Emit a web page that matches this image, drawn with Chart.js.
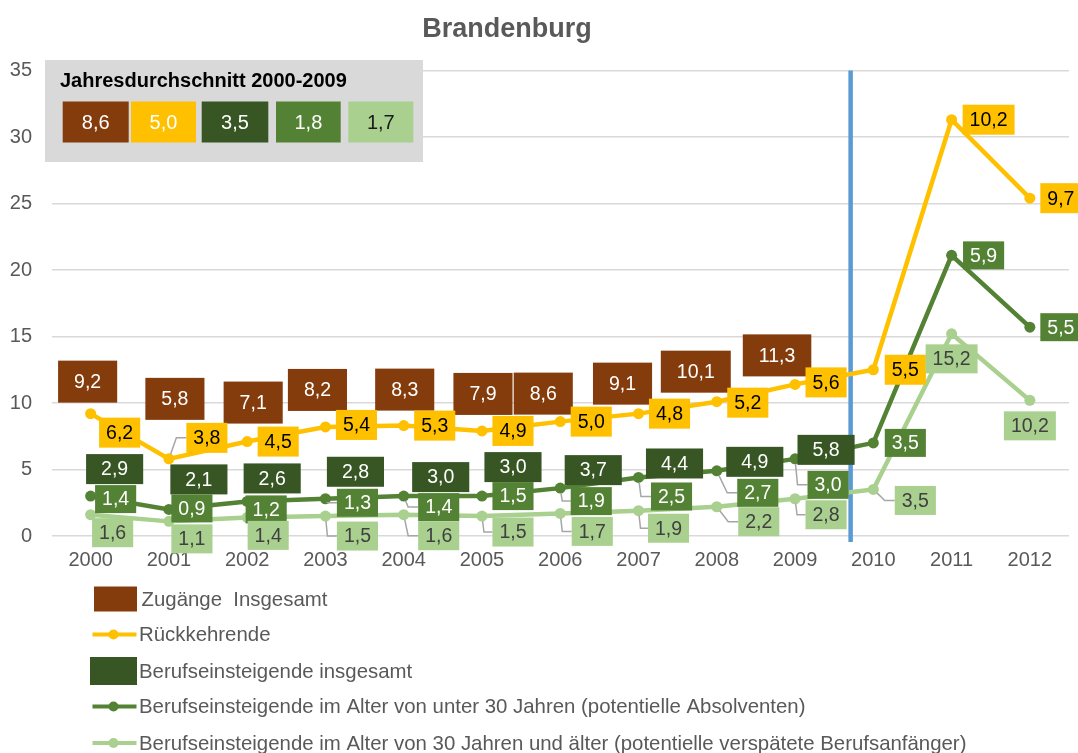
<!DOCTYPE html>
<html lang="de">
<head>
<meta charset="utf-8">
<title>Brandenburg</title>
<script src="https://cdn.jsdelivr.net/npm/chart.js@4.4.1/dist/chart.umd.min.js"></script>
<style>
  html, body { margin: 0; padding: 0; background: #fff; }
  #chart { display: block; }
</style>
</head>
<body>
<canvas id="chart" width="1078" height="753"></canvas>
<script>
// Kategorien und Achse
const years = ['2000', '2001', '2002', '2003', '2004', '2005', '2006', '2007', '2008', '2009', '2010', '2011', '2012'];
const yTicks = [0, 5, 10, 15, 20, 25, 30, 35];

// Jahresdurchschnitt 2000-2009 (Zugänge, Rückkehrende, Einsteiger ges., <30, >=30)
const averages = [8.6, 5.0, 3.5, 1.8, 1.7];

// Werte je Jahr
const zugaengeInsgesamt = [9.2, 5.8, 7.1, 8.2, 8.3, 7.9, 8.6, 9.1, 10.1, 11.3];
const rueckkehrende = [6.2, 3.8, 4.5, 5.4, 5.3, 4.9, 5.0, 4.8, 5.2, 5.6, 5.5, 10.2, 9.7];
const einsteigerInsgesamt = [2.9, 2.1, 2.6, 2.8, 3.0, 3.0, 3.7, 4.4, 4.9, 5.8];
const einsteigerUnter30 = [1.4, 0.9, 1.2, 1.3, 1.4, 1.5, 1.9, 2.5, 2.7, 3.0, 3.5, 5.9, 5.5];
const einsteigerAb30 = [1.6, 1.1, 1.4, 1.5, 1.6, 1.5, 1.7, 1.9, 2.2, 2.8, 3.5, 15.2, 10.2];

const FONT = "'Liberation Sans', Arial, sans-serif";
const GREY_TEXT = '#595959';
const colors = {
    brown: '#843C0C',
    yellow: '#FFC000',
    dark: '#375623',
    mid: '#548235',
    light: '#A9D08E',
    blue: '#5B9BD5'
};

// Position der Datenbeschriftungen (Mitte der Box relativ zum Punkt)
const labelOffsets = {
    zugaenge: [[-3, -32], [6, -60], [6, -39], [-8, -37], [1, -36], [1, -37], [-17, -28], [-16, -30], [-21, -30], [-18, -29]],
    rueck: [[29, 19], [38, -21], [31, 0], [31, -2], [31, 0], [31, 0], [31, 0], [31, 0], [31, 1], [31, -2], [32, 0], [37, 0], [31, 0]],
    insgesamt: [[24, -27], [30, -30], [25, -23], [30, -27], [37, -19], [31, -29], [33, -18], [36, -14], [38, -9], [31, -9]],
    unter30: [[25, 3], [23, -1], [19, 8], [32, 4], [35, 11], [31, 0], [31, 13], [33, 19], [41, 22], [33, 26], [32, 0], [32, 0], [31, 0]],
    ab30: [[22, 18], [23, 17.5], [21, 18], [32, 20], [35, 21], [31, 16], [32, 18], [30, 17.5], [42, 15], [31, 16], [42, 11], [0, 25], [0, 25.5]]
};

function fmt(v) {
    return v.toFixed(1).replace('.', ',');
}

function lineDataset(label, data, color) {
    return {
        label: label,
        data: data,
        borderColor: color,
        backgroundColor: color,
        pointBackgroundColor: color,
        pointBorderColor: color,
        borderWidth: 4.5,
        pointRadius: 5.5,
        pointBorderWidth: 0,
        tension: 0,
        fill: false
    };
}

// Boxen mit Werten + graue Führungslinien
const labelPlugin = {
    id: 'labelBoxes',
    afterDatasetsDraw(chart) {
        const ctx = chart.ctx;
        const metaAb30 = chart.getDatasetMeta(0).data;
        const metaUnter30 = chart.getDatasetMeta(1).data;
        const metaRueck = chart.getDatasetMeta(2).data;

        const groups = [
            { values: zugaengeInsgesamt, pts: metaRueck, off: labelOffsets.zugaenge, bg: colors.brown, fg: '#ffffff', padX: 16, h: 42, leader: false },
            { values: rueckkehrende, pts: metaRueck, off: labelOffsets.rueck, bg: colors.yellow, fg: '#000000', padX: 7, h: 30, leader: true },
            { values: einsteigerInsgesamt, pts: metaUnter30, off: labelOffsets.insgesamt, bg: colors.dark, fg: '#ffffff', padX: 15, h: 30, leader: false },
            { values: einsteigerUnter30, pts: metaUnter30, off: labelOffsets.unter30, bg: colors.mid, fg: '#ffffff', padX: 7, h: 28, leader: true },
            { values: einsteigerAb30, pts: metaAb30, off: labelOffsets.ab30, bg: colors.light, fg: '#404040', padX: 7, h: 29, leader: true }
        ];

        ctx.save();
        ctx.font = '19.5px ' + FONT;
        const boxes = [];
        groups.forEach(g => {
            g.values.forEach((v, i) => {
                const pt = g.pts[i];
                const text = fmt(v);
                const w = ctx.measureText(text).width + g.padX * 2;
                const cx = pt.x + g.off[i][0];
                const cy = pt.y + g.off[i][1];
                boxes.push({ g, text, w, cx, cy, pt, dy: g.off[i][1] });
            });
        });

        // Führungslinien zuerst
        ctx.strokeStyle = '#A6A6A6';
        ctx.lineWidth = 1.5;
        boxes.forEach(b => {
            const left = b.cx - b.w / 2;
            if (!b.g.leader || left - b.pt.x <= 9 || Math.abs(b.dy) <= 3) return;
            const ex = Math.max(left - 10, b.pt.x + 2);
            const dx = ex - b.pt.x, dy = b.cy - b.pt.y;
            const len = Math.sqrt(dx * dx + dy * dy) || 1;
            ctx.beginPath();
            ctx.moveTo(b.pt.x + dx / len * 5, b.pt.y + dy / len * 5);
            ctx.lineTo(ex, b.cy);
            ctx.lineTo(left, b.cy);
            ctx.stroke();
        });

        ctx.textAlign = 'center';
        ctx.textBaseline = 'middle';
        boxes.forEach(b => {
            ctx.fillStyle = b.g.bg;
            ctx.fillRect(b.cx - b.w / 2, b.cy - b.g.h / 2, b.w, b.g.h);
            ctx.fillStyle = b.g.fg;
            ctx.fillText(b.text, b.cx, b.cy + 1);
        });
        ctx.restore();
    }
};

// blaue Trennlinie zwischen 2009 und 2010
const dividerPlugin = {
    id: 'divider',
    beforeDatasetsDraw(chart) {
        const ctx = chart.ctx;
        const x = chart.scales.x.getPixelForValue(9.71);
        ctx.save();
        ctx.strokeStyle = colors.blue;
        ctx.lineWidth = 4.5;
        ctx.beginPath();
        ctx.moveTo(x, chart.chartArea.top);
        ctx.lineTo(x, chart.chartArea.bottom + 6);
        ctx.stroke();
        ctx.restore();
    }
};

// Titel, Jahresdurchschnitt-Kasten und Legende
const decorPlugin = {
    id: 'decor',
    afterDraw(chart) {
        const ctx = chart.ctx;
        ctx.save();

        // Titel
        ctx.fillStyle = GREY_TEXT;
        ctx.font = 'bold 27px ' + FONT;
        ctx.textAlign = 'center';
        ctx.textBaseline = 'alphabetic';
        ctx.fillText('Brandenburg', 507, 36.5);

        // Jahresdurchschnitt
        ctx.fillStyle = '#D9D9D9';
        ctx.fillRect(45, 60, 378, 102);
        ctx.fillStyle = '#000000';
        ctx.font = 'bold 20px ' + FONT;
        ctx.textAlign = 'left';
        ctx.fillText('Jahresdurchschnitt 2000-2009', 60, 86.5);

        const avgBoxes = [
            { x: 62.7, w: 66, bg: colors.brown, fg: '#ffffff' },
            { x: 131, w: 65, bg: colors.yellow, fg: '#ffffff' },
            { x: 201.7, w: 66.6, bg: colors.dark, fg: '#ffffff' },
            { x: 276, w: 64.7, bg: colors.mid, fg: '#ffffff' },
            { x: 348.3, w: 65, bg: colors.light, fg: '#1a1a1a' }
        ];
        ctx.font = '20px ' + FONT;
        ctx.textAlign = 'center';
        ctx.textBaseline = 'middle';
        averages.forEach((v, i) => {
            const b = avgBoxes[i];
            ctx.fillStyle = b.bg;
            ctx.fillRect(b.x, 101.5, b.w, 41);
            ctx.fillStyle = b.fg;
            ctx.fillText(fmt(v), b.x + b.w / 2, 123);
        });

        // Legende
        const items = [
            { type: 'box', text: 'Zugänge  Insgesamt', color: colors.brown, y: 599, bx: 94, bw: 43, bh: 25, tx: 141.5 },
            { type: 'line', text: 'Rückkehrende', color: colors.yellow, y: 634.5, tx: 139 },
            { type: 'box', text: 'Berufseinsteigende insgesamt', color: colors.dark, y: 671, bx: 90, bw: 47, bh: 28, tx: 139 },
            { type: 'line', text: 'Berufseinsteigende im Alter von unter 30 Jahren (potentielle Absolventen)', color: colors.mid, y: 706.5, tx: 139 },
            { type: 'line', text: 'Berufseinsteigende im Alter von 30 Jahren und älter (potentielle verspätete Berufsanfänger)', color: colors.light, y: 743, tx: 139 }
        ];
        ctx.font = '20.4px ' + FONT;
        ctx.textAlign = 'left';
        items.forEach(it => {
            if (it.type === 'box') {
                ctx.fillStyle = it.color;
                ctx.fillRect(it.bx, it.y - it.bh / 2, it.bw, it.bh);
            } else {
                ctx.strokeStyle = it.color;
                ctx.lineWidth = 4;
                ctx.beginPath();
                ctx.moveTo(92.5, it.y);
                ctx.lineTo(136.5, it.y);
                ctx.stroke();
                ctx.fillStyle = it.color;
                ctx.beginPath();
                ctx.arc(113.5, it.y, 5, 0, Math.PI * 2);
                ctx.fill();
            }
            ctx.fillStyle = GREY_TEXT;
            ctx.fillText(it.text, it.tx, it.y + 1);
        });

        ctx.restore();
    }
};

Chart.defaults.font.family = FONT;

new Chart(document.getElementById('chart'), {
    type: 'line',
    data: {
        labels: years,
        datasets: [
            lineDataset('Berufseinsteigende im Alter von 30 Jahren und älter (potentielle verspätete Berufsanfänger)', einsteigerAb30, colors.light),
            lineDataset('Berufseinsteigende im Alter von unter 30 Jahren (potentielle Absolventen)', einsteigerUnter30, colors.mid),
            lineDataset('Rückkehrende', rueckkehrende, colors.yellow)
        ]
    },
    options: {
        responsive: false,
        animation: false,
        events: [],
        layout: {
            padding: { top: 70.5, right: 9, bottom: 0, left: 0 }
        },
        plugins: {
            legend: { display: false },
            title: { display: false },
            tooltip: { enabled: false }
        },
        scales: {
            x: {
                offset: true,
                grid: { display: false, drawTicks: false },
                border: { display: false },
                ticks: {
                    color: GREY_TEXT,
                    font: { size: 20 },
                    padding: 12.5,
                    maxRotation: 0,
                    autoSkip: false
                },
                afterFit(scale) { scale.height = 217; }
            },
            y: {
                stacked: true,
                min: 0,
                max: 35,
                afterBuildTicks(scale) {
                    scale.ticks = yTicks.map(v => ({ value: v }));
                },
                grid: { color: '#D9D9D9', lineWidth: 1.5, drawTicks: false },
                border: { display: false },
                ticks: {
                    color: GREY_TEXT,
                    font: { size: 20 },
                    padding: 19.5
                },
                afterFit(scale) { scale.width = 51.5; }
            }
        }
    },
    plugins: [dividerPlugin, labelPlugin, decorPlugin]
});
</script>
</body>
</html>
